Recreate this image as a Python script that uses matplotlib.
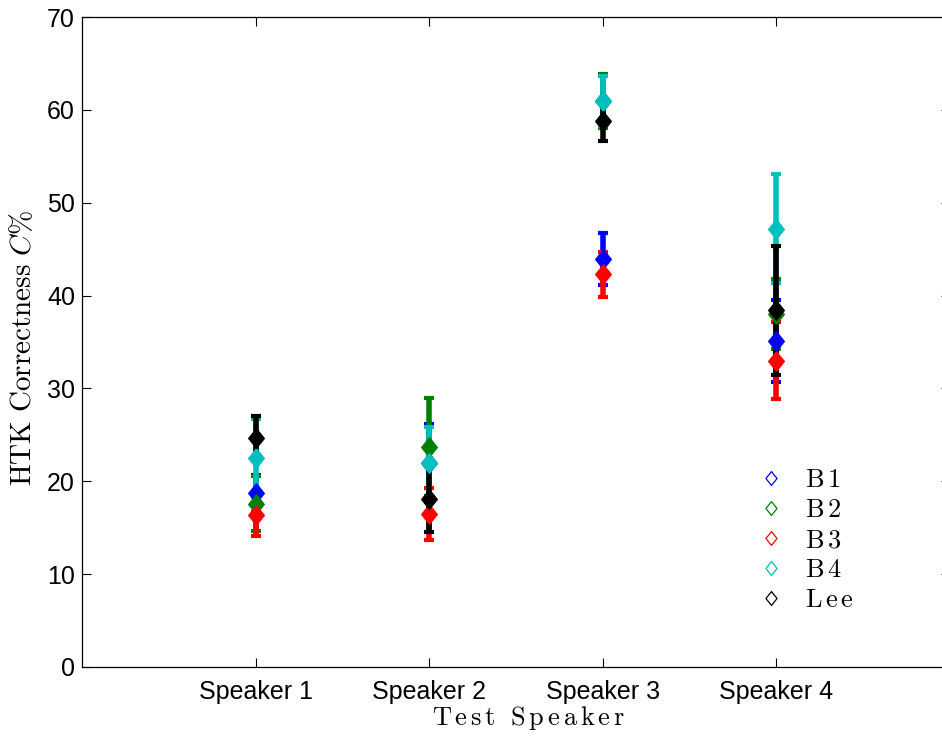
import matplotlib
matplotlib.use("Agg")
import matplotlib.pyplot as plt
from matplotlib.path import Path
import numpy as np

plt.rcParams['mathtext.fontset'] = 'cm'
plt.rcParams['font.family'] = ['Liberation Sans', 'DejaVu Sans']

speakers = ["Speaker 1", "Speaker 2", "Speaker 3", "Speaker 4"]
series = ["B1", "B2", "B3", "B4", "Lee"]
colors = ["#0000ff", "#008000", "#ff0000", "#00bfbf", "#000000"]

b1_mean = [18.7, 22.0, 43.9, 35.1]
b1_err = [2.0, 4.2, 2.8, 4.45]
b2_mean = [17.6, 23.7, 61.0, 38.0]
b2_err = [3.0, 5.3, 2.9, 3.8]
b3_mean = [16.4, 16.5, 42.3, 33.0]
b3_err = [2.3, 2.8, 2.4, 4.15]
b4_mean = [22.5, 22.0, 61.0, 47.2]
b4_err = [4.2, 3.8, 2.7, 5.85]
lee_mean = [24.7, 18.1, 58.8, 38.4]
lee_err = [2.3, 3.6, 2.2, 6.9]

means = [b1_mean, b2_mean, b3_mean, b4_mean, lee_mean]
errs = [b1_err, b2_err, b3_err, b4_err, lee_err]

diamond = Path([(0, 1), (0.8, 0), (0, -1), (-0.8, 0), (0, 1)],
               [Path.MOVETO, Path.LINETO, Path.LINETO, Path.LINETO, Path.CLOSEPOLY])


def spaced(s, sp=r'\:'):
    words = s.split(' ')
    return r'\ \ '.join(sp.join(w) for w in words)


fig = plt.figure(figsize=(9.42, 7.40), dpi=100)
ax = fig.add_axes([82/942, 1-667/740, (950-82)/942, (667-17)/740])

x = np.arange(1, len(speakers)+1)
handles = []
for name, m, e, c in zip(series, means, errs, colors):
    ax.errorbar(x, m, yerr=e, fmt='none', ecolor=c, elinewidth=4,
                capsize=3.6, capthick=3, zorder=2)
    ax.plot(x, m, linestyle='none', marker=diamond, markersize=14,
            color=c, markeredgecolor=c, zorder=3)
    h, = ax.plot([], [], linestyle='none', marker=diamond, markersize=10,
                 markerfacecolor='none', markeredgecolor=c,
                 markeredgewidth=0.9,
                 label=r'$\mathrm{' + spaced(name, r'\,') + '}$')
    handles.append(h)

ax.set_xlim(0, 5)
ax.set_ylim(0, 70)
ax.set_xticks(x)
ax.set_xticklabels(speakers)
ax.set_yticks(np.arange(0, 71, 10))
ax.tick_params(axis='both', direction='in', top=True, right=True,
               labelsize=18, length=6.5, width=0.8)
ax.tick_params(axis='x', pad=9)
ax.tick_params(axis='y', pad=5)
for s in ax.spines.values():
    s.set_linewidth(0.9)

ax.set_ylabel(r'$\mathrm{HTK\ Correctness}\ C\%$', fontsize=21)
ax.yaxis.set_label_coords(-45/868, 0.49)
ax.set_xlabel(r'$\mathrm{' + spaced('Test Speaker', r'\,') + '}$', fontsize=19)
ax.xaxis.set_label_coords((528-82)/868, -(704-667)/650)

ax.legend(handles=handles, loc='upper left',
          bbox_to_anchor=((755-82)/868, (667-468)/650),
          frameon=False, fontsize=19, handletextpad=0.7, labelspacing=0.23,
          handlelength=1.2, borderaxespad=0, borderpad=0)

fig.savefig("out.png", dpi=100)
